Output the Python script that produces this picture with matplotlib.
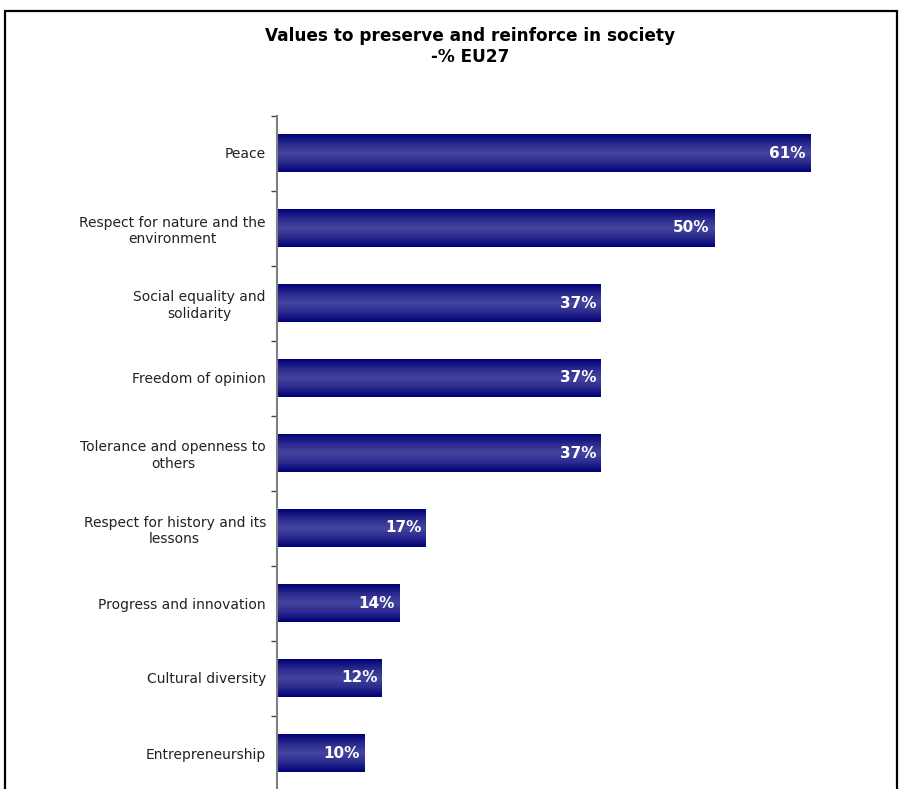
import numpy as np
import matplotlib
matplotlib.use("Agg")
import matplotlib.pyplot as plt
from matplotlib.patches import Rectangle
from matplotlib.colors import LinearSegmentedColormap

categories = [
    "Peace",
    "Respect for nature and the\nenvironment",
    "Social equality and\nsolidarity",
    "Freedom of opinion",
    "Tolerance and openness to\nothers",
    "Respect for history and its\nlessons",
    "Progress and innovation",
    "Cultural diversity",
    "Entrepreneurship",
]
values = [61, 50, 37, 37, 37, 17, 14, 12, 10]
title_lines = ["Values to preserve and reinforce in society", "-% EU27"]

plt.rcParams['font.family'] = ['DejaVu Sans']

fig = plt.figure(figsize=(9.03, 7.89), dpi=100)
ax = fig.add_axes([277 / 903, -1.5 / 789, 612 / 903, 675 / 789])

# gradient for bars: dark edges, lighter middle
cmap = LinearSegmentedColormap.from_list(
    "bar", ["#000078", "#2a2a8e", "#45459f", "#2a2a8e", "#000078"])
grad = np.linspace(0, 1, 64).reshape(-1, 1)

n = len(categories)
ypos = np.arange(n)
h = 0.5
for y, v in zip(ypos, values):
    ax.imshow(grad, cmap=cmap, aspect='auto', interpolation='bilinear',
              extent=(0, v, y + h / 2, y - h / 2), zorder=2)
    ax.text(v - 0.5, y, f"{v}%", ha='right', va='center', color='white',
            fontsize=11, fontweight='bold', zorder=3)

ax.set_xlim(0, 70)
ax.set_ylim(n - 0.5, -0.5)

ax.set_yticks(ypos)
ax.set_yticklabels(categories, fontsize=10, multialignment='center',
                   color='#222222', linespacing=1.2)
ax.tick_params(axis='y', which='major', length=0, pad=8)
ax.set_yticks(np.arange(-0.5, n, 1.0), minor=True)
ax.tick_params(axis='y', which='minor', length=4, width=1, color='#444444',
               direction='out')
ax.set_xticks([])
for s in ['top', 'right', 'bottom']:
    ax.spines[s].set_visible(False)
ax.spines['left'].set_color('#808080')
ax.spines['left'].set_linewidth(1.5)

fig.text(470 / 903, 1 - 36 / 789, title_lines[0], ha='center', va='center',
         fontsize=12.2, fontweight='bold')
fig.text(470 / 903, 1 - 57 / 789, title_lines[1], ha='center', va='center',
         fontsize=12.2, fontweight='bold')

frame = Rectangle((5 / 903, -0.05), 892 / 903, 1.05 - 11 / 789,
                  transform=fig.transFigure, fill=False, edgecolor='black',
                  linewidth=1.6, clip_on=False)
fig.patches.append(frame)

fig.savefig("out.png", dpi=100)
